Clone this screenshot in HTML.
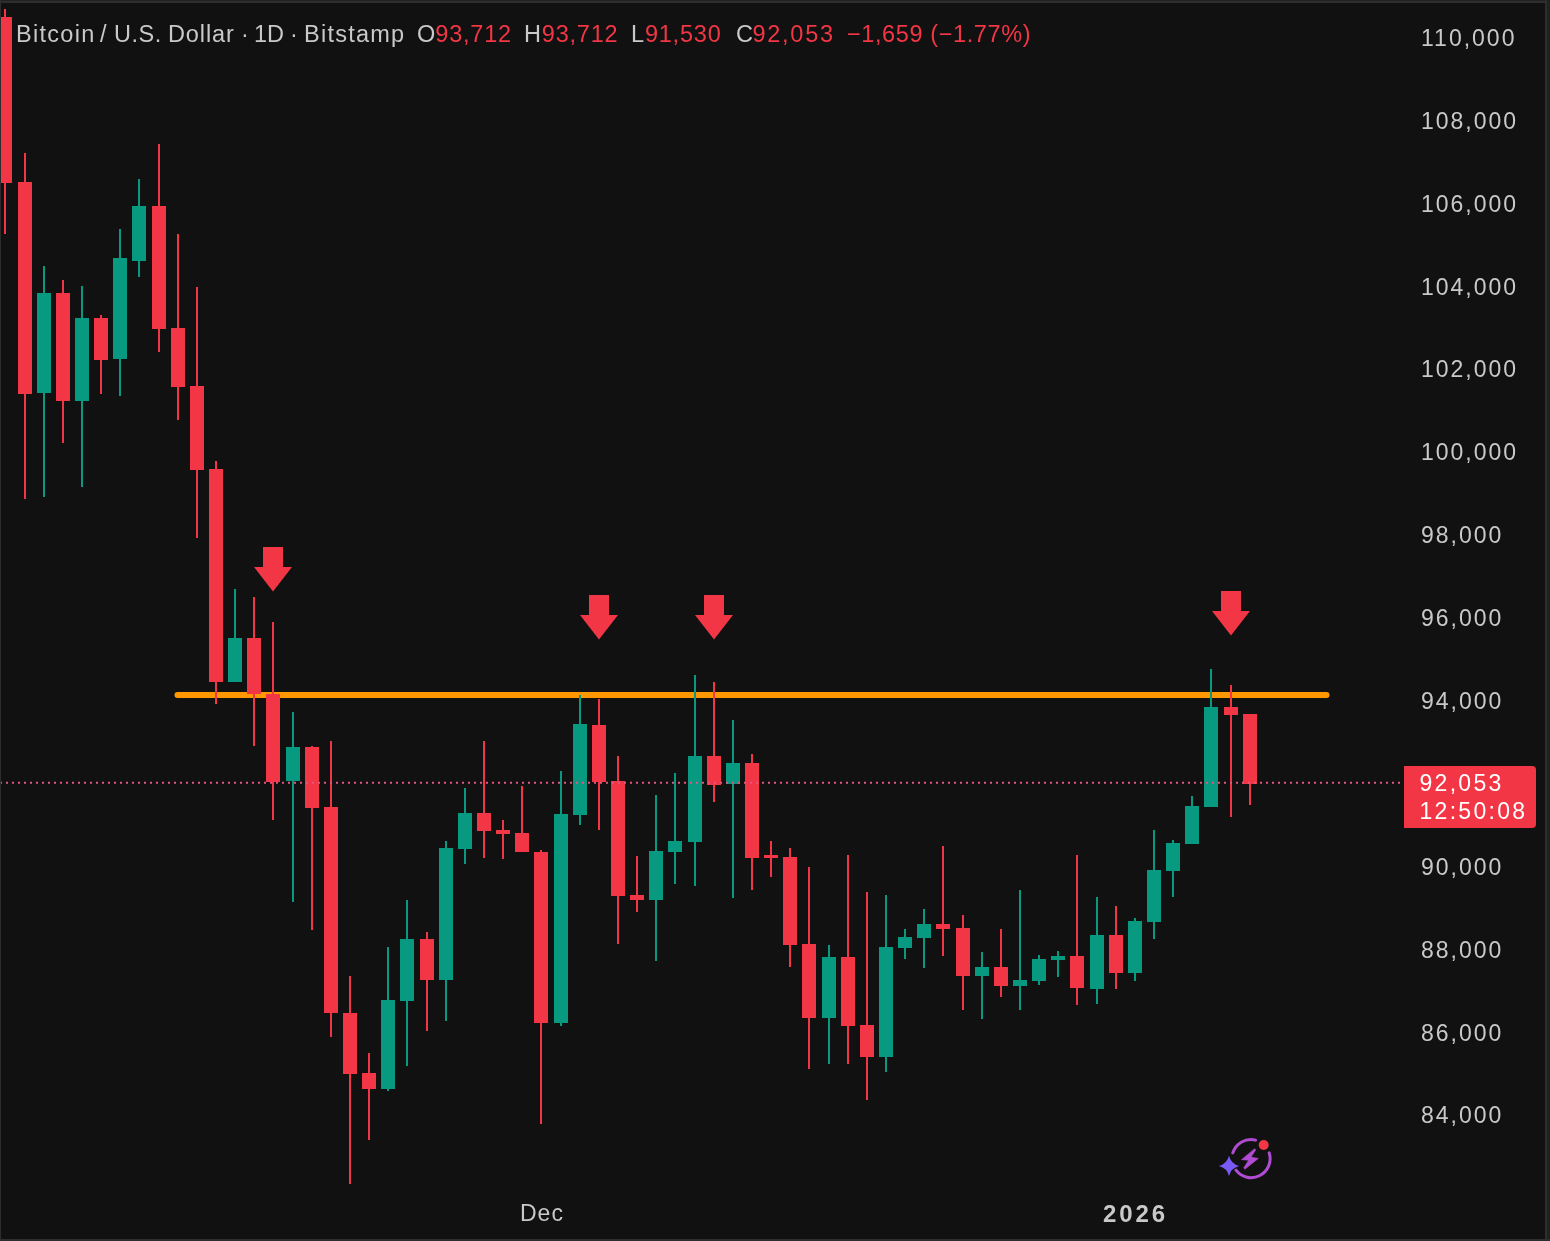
<!DOCTYPE html>
<html><head><meta charset="utf-8">
<style>
html,body{margin:0;padding:0;background:#111111;}
body{width:1550px;height:1241px;position:relative;overflow:hidden;font-family:"Liberation Sans",sans-serif;-webkit-font-smoothing:antialiased;}
.lg,.pl,.tl,.badge{will-change:transform;}
svg{position:absolute;left:0;top:0;}
.lg{position:absolute;top:20px;font-size:23.5px;color:#c9c9c9;white-space:nowrap;line-height:28px;}
.r{color:#F23645;}
.pl{position:absolute;left:1421px;font-size:23px;line-height:28px;color:#c9c9c9;letter-spacing:2px;white-space:nowrap;}
.tl{position:absolute;top:1199px;font-size:23px;line-height:28px;color:#c9c9c9;white-space:nowrap;}
.badge{position:absolute;left:1404px;top:766px;width:132px;height:62px;background:#F23645;border-radius:0 4px 4px 0;}
.badge div{position:absolute;left:15.5px;font-size:23px;line-height:28px;color:#fff;letter-spacing:2.3px;white-space:nowrap;}
</style></head><body>
<svg width="1550" height="1241" viewBox="0 0 1550 1241">
<line x1="177.5" y1="695" x2="1326.5" y2="695" stroke="#FF9800" stroke-width="6" stroke-linecap="round"/>
<g shape-rendering="crispEdges">
<rect x="4" y="9.0" width="2" height="225.0" fill="#F23645"/>
<rect x="-2" y="17.0" width="14" height="166.0" fill="#F23645"/>
<rect x="24" y="153.0" width="2" height="346.0" fill="#F23645"/>
<rect x="18" y="182.0" width="14" height="212.0" fill="#F23645"/>
<rect x="43" y="266.0" width="2" height="231.0" fill="#089981"/>
<rect x="37" y="293.0" width="14" height="100.0" fill="#089981"/>
<rect x="62" y="280.0" width="2" height="163.0" fill="#F23645"/>
<rect x="56" y="293.0" width="14" height="108.0" fill="#F23645"/>
<rect x="81" y="286.0" width="2" height="201.0" fill="#089981"/>
<rect x="75" y="318.0" width="14" height="83.0" fill="#089981"/>
<rect x="100" y="315.0" width="2" height="79.0" fill="#F23645"/>
<rect x="94" y="318.0" width="14" height="42.0" fill="#F23645"/>
<rect x="119" y="229.0" width="2" height="167.0" fill="#089981"/>
<rect x="113" y="258.0" width="14" height="101.0" fill="#089981"/>
<rect x="138" y="179.0" width="2" height="98.0" fill="#089981"/>
<rect x="132" y="206.0" width="14" height="55.0" fill="#089981"/>
<rect x="158" y="144.0" width="2" height="208.0" fill="#F23645"/>
<rect x="152" y="206.0" width="14" height="123.0" fill="#F23645"/>
<rect x="177" y="234.0" width="2" height="186.0" fill="#F23645"/>
<rect x="171" y="328.0" width="14" height="59.0" fill="#F23645"/>
<rect x="196" y="287.0" width="2" height="251.0" fill="#F23645"/>
<rect x="190" y="386.0" width="14" height="84.0" fill="#F23645"/>
<rect x="215" y="461.0" width="2" height="243.0" fill="#F23645"/>
<rect x="209" y="469.0" width="14" height="213.0" fill="#F23645"/>
<rect x="234" y="589.0" width="2" height="93.0" fill="#089981"/>
<rect x="228" y="638.0" width="14" height="44.0" fill="#089981"/>
<rect x="253" y="597.0" width="2" height="149.0" fill="#F23645"/>
<rect x="247" y="638.0" width="14" height="56.0" fill="#F23645"/>
<rect x="272" y="622.0" width="2" height="198.0" fill="#F23645"/>
<rect x="266" y="694.0" width="14" height="88.0" fill="#F23645"/>
<rect x="292" y="712.0" width="2" height="190.0" fill="#089981"/>
<rect x="286" y="747.0" width="14" height="34.0" fill="#089981"/>
<rect x="311" y="746.0" width="2" height="184.0" fill="#F23645"/>
<rect x="305" y="747.0" width="14" height="61.0" fill="#F23645"/>
<rect x="330" y="741.0" width="2" height="296.0" fill="#F23645"/>
<rect x="324" y="807.0" width="14" height="206.0" fill="#F23645"/>
<rect x="349" y="976.0" width="2" height="208.0" fill="#F23645"/>
<rect x="343" y="1013.0" width="14" height="61.0" fill="#F23645"/>
<rect x="368" y="1053.0" width="2" height="87.0" fill="#F23645"/>
<rect x="362" y="1073.0" width="14" height="16.0" fill="#F23645"/>
<rect x="387" y="947.0" width="2" height="144.0" fill="#089981"/>
<rect x="381" y="1000.0" width="14" height="89.0" fill="#089981"/>
<rect x="406" y="900.0" width="2" height="166.0" fill="#089981"/>
<rect x="400" y="939.0" width="14" height="62.0" fill="#089981"/>
<rect x="426" y="932.0" width="2" height="99.0" fill="#F23645"/>
<rect x="420" y="939.0" width="14" height="41.0" fill="#F23645"/>
<rect x="445" y="841.0" width="2" height="180.0" fill="#089981"/>
<rect x="439" y="848.0" width="14" height="132.0" fill="#089981"/>
<rect x="464" y="788.0" width="2" height="76.0" fill="#089981"/>
<rect x="458" y="813.0" width="14" height="36.0" fill="#089981"/>
<rect x="483" y="741.0" width="2" height="117.0" fill="#F23645"/>
<rect x="477" y="813.0" width="14" height="18.0" fill="#F23645"/>
<rect x="502" y="820.0" width="2" height="39.0" fill="#F23645"/>
<rect x="496" y="830.0" width="14" height="4.0" fill="#F23645"/>
<rect x="521" y="786.0" width="2" height="66.0" fill="#F23645"/>
<rect x="515" y="833.0" width="14" height="19.0" fill="#F23645"/>
<rect x="540" y="850.0" width="2" height="274.0" fill="#F23645"/>
<rect x="534" y="852.0" width="14" height="171.0" fill="#F23645"/>
<rect x="560" y="771.0" width="2" height="255.0" fill="#089981"/>
<rect x="554" y="814.0" width="14" height="209.0" fill="#089981"/>
<rect x="579" y="695.0" width="2" height="130.0" fill="#089981"/>
<rect x="573" y="724.0" width="14" height="91.0" fill="#089981"/>
<rect x="598" y="699.0" width="2" height="131.0" fill="#F23645"/>
<rect x="592" y="725.0" width="14" height="57.0" fill="#F23645"/>
<rect x="617" y="756.0" width="2" height="188.0" fill="#F23645"/>
<rect x="611" y="781.0" width="14" height="115.0" fill="#F23645"/>
<rect x="636" y="856.0" width="2" height="56.0" fill="#F23645"/>
<rect x="630" y="895.0" width="14" height="5.0" fill="#F23645"/>
<rect x="655" y="795.0" width="2" height="166.0" fill="#089981"/>
<rect x="649" y="851.0" width="14" height="49.0" fill="#089981"/>
<rect x="674" y="773.0" width="2" height="111.0" fill="#089981"/>
<rect x="668" y="841.0" width="14" height="11.0" fill="#089981"/>
<rect x="694" y="675.0" width="2" height="211.0" fill="#089981"/>
<rect x="688" y="756.0" width="14" height="86.0" fill="#089981"/>
<rect x="713" y="682.0" width="2" height="120.0" fill="#F23645"/>
<rect x="707" y="756.0" width="14" height="29.0" fill="#F23645"/>
<rect x="732" y="720.0" width="2" height="178.0" fill="#089981"/>
<rect x="726" y="763.0" width="14" height="21.0" fill="#089981"/>
<rect x="751" y="754.0" width="2" height="136.0" fill="#F23645"/>
<rect x="745" y="763.0" width="14" height="95.0" fill="#F23645"/>
<rect x="770" y="841.0" width="2" height="36.0" fill="#F23645"/>
<rect x="764" y="855.0" width="14" height="3.0" fill="#F23645"/>
<rect x="789" y="848.0" width="2" height="119.0" fill="#F23645"/>
<rect x="783" y="857.0" width="14" height="88.0" fill="#F23645"/>
<rect x="808" y="867.0" width="2" height="202.0" fill="#F23645"/>
<rect x="802" y="944.0" width="14" height="74.0" fill="#F23645"/>
<rect x="828" y="945.0" width="2" height="119.0" fill="#089981"/>
<rect x="822" y="957.0" width="14" height="61.0" fill="#089981"/>
<rect x="847" y="855.0" width="2" height="209.0" fill="#F23645"/>
<rect x="841" y="957.0" width="14" height="69.0" fill="#F23645"/>
<rect x="866" y="892.0" width="2" height="208.0" fill="#F23645"/>
<rect x="860" y="1025.0" width="14" height="32.0" fill="#F23645"/>
<rect x="885" y="895.0" width="2" height="177.0" fill="#089981"/>
<rect x="879" y="947.0" width="14" height="110.0" fill="#089981"/>
<rect x="904" y="929.0" width="2" height="30.0" fill="#089981"/>
<rect x="898" y="937.0" width="14" height="11.0" fill="#089981"/>
<rect x="923" y="909.0" width="2" height="59.0" fill="#089981"/>
<rect x="917" y="924.0" width="14" height="14.0" fill="#089981"/>
<rect x="942" y="846.0" width="2" height="110.0" fill="#F23645"/>
<rect x="936" y="924.0" width="14" height="5.0" fill="#F23645"/>
<rect x="962" y="915.0" width="2" height="95.0" fill="#F23645"/>
<rect x="956" y="928.0" width="14" height="48.0" fill="#F23645"/>
<rect x="981" y="952.0" width="2" height="67.0" fill="#089981"/>
<rect x="975" y="967.0" width="14" height="9.0" fill="#089981"/>
<rect x="1000" y="929.0" width="2" height="68.0" fill="#F23645"/>
<rect x="994" y="967.0" width="14" height="19.0" fill="#F23645"/>
<rect x="1019" y="890.0" width="2" height="120.0" fill="#089981"/>
<rect x="1013" y="980.0" width="14" height="6.0" fill="#089981"/>
<rect x="1038" y="955.0" width="2" height="30.0" fill="#089981"/>
<rect x="1032" y="959.0" width="14" height="22.0" fill="#089981"/>
<rect x="1057" y="951.0" width="2" height="26.0" fill="#089981"/>
<rect x="1051" y="956.0" width="14" height="4.0" fill="#089981"/>
<rect x="1076" y="855.0" width="2" height="150.0" fill="#F23645"/>
<rect x="1070" y="956.0" width="14" height="32.0" fill="#F23645"/>
<rect x="1096" y="897.0" width="2" height="107.0" fill="#089981"/>
<rect x="1090" y="935.0" width="14" height="54.0" fill="#089981"/>
<rect x="1115" y="906.0" width="2" height="83.0" fill="#F23645"/>
<rect x="1109" y="935.0" width="14" height="38.0" fill="#F23645"/>
<rect x="1134" y="918.0" width="2" height="63.0" fill="#089981"/>
<rect x="1128" y="921.0" width="14" height="52.0" fill="#089981"/>
<rect x="1153" y="830.0" width="2" height="109.0" fill="#089981"/>
<rect x="1147" y="870.0" width="14" height="52.0" fill="#089981"/>
<rect x="1172" y="840.0" width="2" height="57.0" fill="#089981"/>
<rect x="1166" y="843.0" width="14" height="28.0" fill="#089981"/>
<rect x="1191" y="796.0" width="2" height="48.0" fill="#089981"/>
<rect x="1185" y="806.0" width="14" height="38.0" fill="#089981"/>
<rect x="1210" y="669.0" width="2" height="138.0" fill="#089981"/>
<rect x="1204" y="707.0" width="14" height="100.0" fill="#089981"/>
<rect x="1230" y="685.0" width="2" height="132.0" fill="#F23645"/>
<rect x="1224" y="707.0" width="14" height="8.0" fill="#F23645"/>
<rect x="1249" y="714.0" width="2" height="91.0" fill="#F23645"/>
<rect x="1243" y="714.0" width="14" height="70.0" fill="#F23645"/>
</g>
<line x1="0" y1="782.8" x2="1404" y2="782.8" stroke="#E4567E" stroke-width="2" stroke-dasharray="2 4"/>
<path d="M263 547 H283 V567 H292 L273 591.5 L254 567 H263 Z" fill="#F23645"/>
<path d="M589 595 H609 V615 H618 L599 639.5 L580 615 H589 Z" fill="#F23645"/>
<path d="M704 595 H724 V615 H733 L714 639.5 L695 615 H704 Z" fill="#F23645"/>
<path d="M1221 591 H1241 V611 H1250 L1231 635.5 L1212 611 H1221 Z" fill="#F23645"/>
<g transform="translate(1251 1158.5)">
<path d="M-18.2 -5.6 A19 19 0 0 1 4.6 -18.4" fill="none" stroke="#B04CD2" stroke-width="3" stroke-linecap="round"/>
<path d="M18.2 -5.6 A19 19 0 0 1 -15 11.7" fill="none" stroke="#B04CD2" stroke-width="3" stroke-linecap="round"/>
<path d="M3.6 -9.8 L4.8 -8.7 L0.1 -1.4 L7.4 -0.1 L-6.1 10.7 L-7.3 9.5 L-2.5 1.8 L-9.6 1.2 Z" fill="#B04CD2" stroke="#B04CD2" stroke-width="0.5" stroke-linejoin="round"/>
</g>
<path d="M1229 1155.8 Q1231 1164 1239.2 1166 Q1231 1168 1229 1176 Q1227 1168 1218.8 1166 Q1227 1164 1229 1155.8 Z" fill="#7A5AF5"/>
<circle cx="1263.7" cy="1145" r="5" fill="#F23645"/>
</svg>
<div class="lg" style="left:15.5px;letter-spacing:1.3px">Bitcoin</div>
<div class="lg" style="left:99.5px">/</div>
<div class="lg" style="left:114px;letter-spacing:0.55px">U.S.</div>
<div class="lg" style="left:168px;letter-spacing:0.9px">Dollar</div>
<div class="lg" style="left:240.5px">·</div>
<div class="lg" style="left:254px;letter-spacing:0px">1D</div>
<div class="lg" style="left:289.5px">·</div>
<div class="lg" style="left:303.5px;letter-spacing:1.25px">Bitstamp</div>
<div class="lg" style="left:417.2px;letter-spacing:0.8px">O<span class="r" style="margin-left:-0.8px">93,712</span></div>
<div class="lg" style="left:524.3px;letter-spacing:0.8px">H<span class="r">93,712</span></div>
<div class="lg" style="left:631.3px;letter-spacing:0.8px">L<span class="r">91,530</span></div>
<div class="lg" style="left:736px;letter-spacing:0.8px">C<span class="r" style="margin-left:-1.4px;letter-spacing:1.75px">92,053</span></div>
<div class="lg r" style="left:846.5px;letter-spacing:0.6px">−1,659 (−1.77%)</div>
<div class="pl" style="top:23.9px">110,000</div>
<div class="pl" style="top:106.8px">108,000</div>
<div class="pl" style="top:189.7px">106,000</div>
<div class="pl" style="top:272.5px">104,000</div>
<div class="pl" style="top:355.4px">102,000</div>
<div class="pl" style="top:438.3px">100,000</div>
<div class="pl" style="top:521.2px">98,000</div>
<div class="pl" style="top:604.1px">96,000</div>
<div class="pl" style="top:686.9px">94,000</div>
<div class="pl" style="top:769.8px">92,000</div>
<div class="pl" style="top:852.7px">90,000</div>
<div class="pl" style="top:935.6px">88,000</div>
<div class="pl" style="top:1018.5px">86,000</div>
<div class="pl" style="top:1101.3px">84,000</div>
<div class="badge"><div style="top:2.5px">92,053</div><div style="top:30.5px">12:50:08</div></div>
<div class="tl" style="left:520px;letter-spacing:1px">Dec</div>
<div class="tl" style="left:1103px;top:1199.5px;font-size:24px;font-weight:bold;letter-spacing:2.9px">2026</div>
<div style="position:absolute;left:0;top:0;width:1550px;height:1px;background:#222"></div>
<div style="position:absolute;left:0;top:1px;width:1550px;height:2px;background:#2e2e2e"></div>
<div style="position:absolute;left:1545px;top:0;width:2px;height:1241px;background:#2e2e2e"></div>
<div style="position:absolute;left:1547px;top:0;width:3px;height:1241px;background:#212121"></div>
<div style="position:absolute;left:0;top:1239px;width:1550px;height:2px;background:#2e2e2e"></div>
<div style="position:absolute;left:0;top:0;width:1px;height:1241px;background:#2c2c2c"></div>
</body></html>
